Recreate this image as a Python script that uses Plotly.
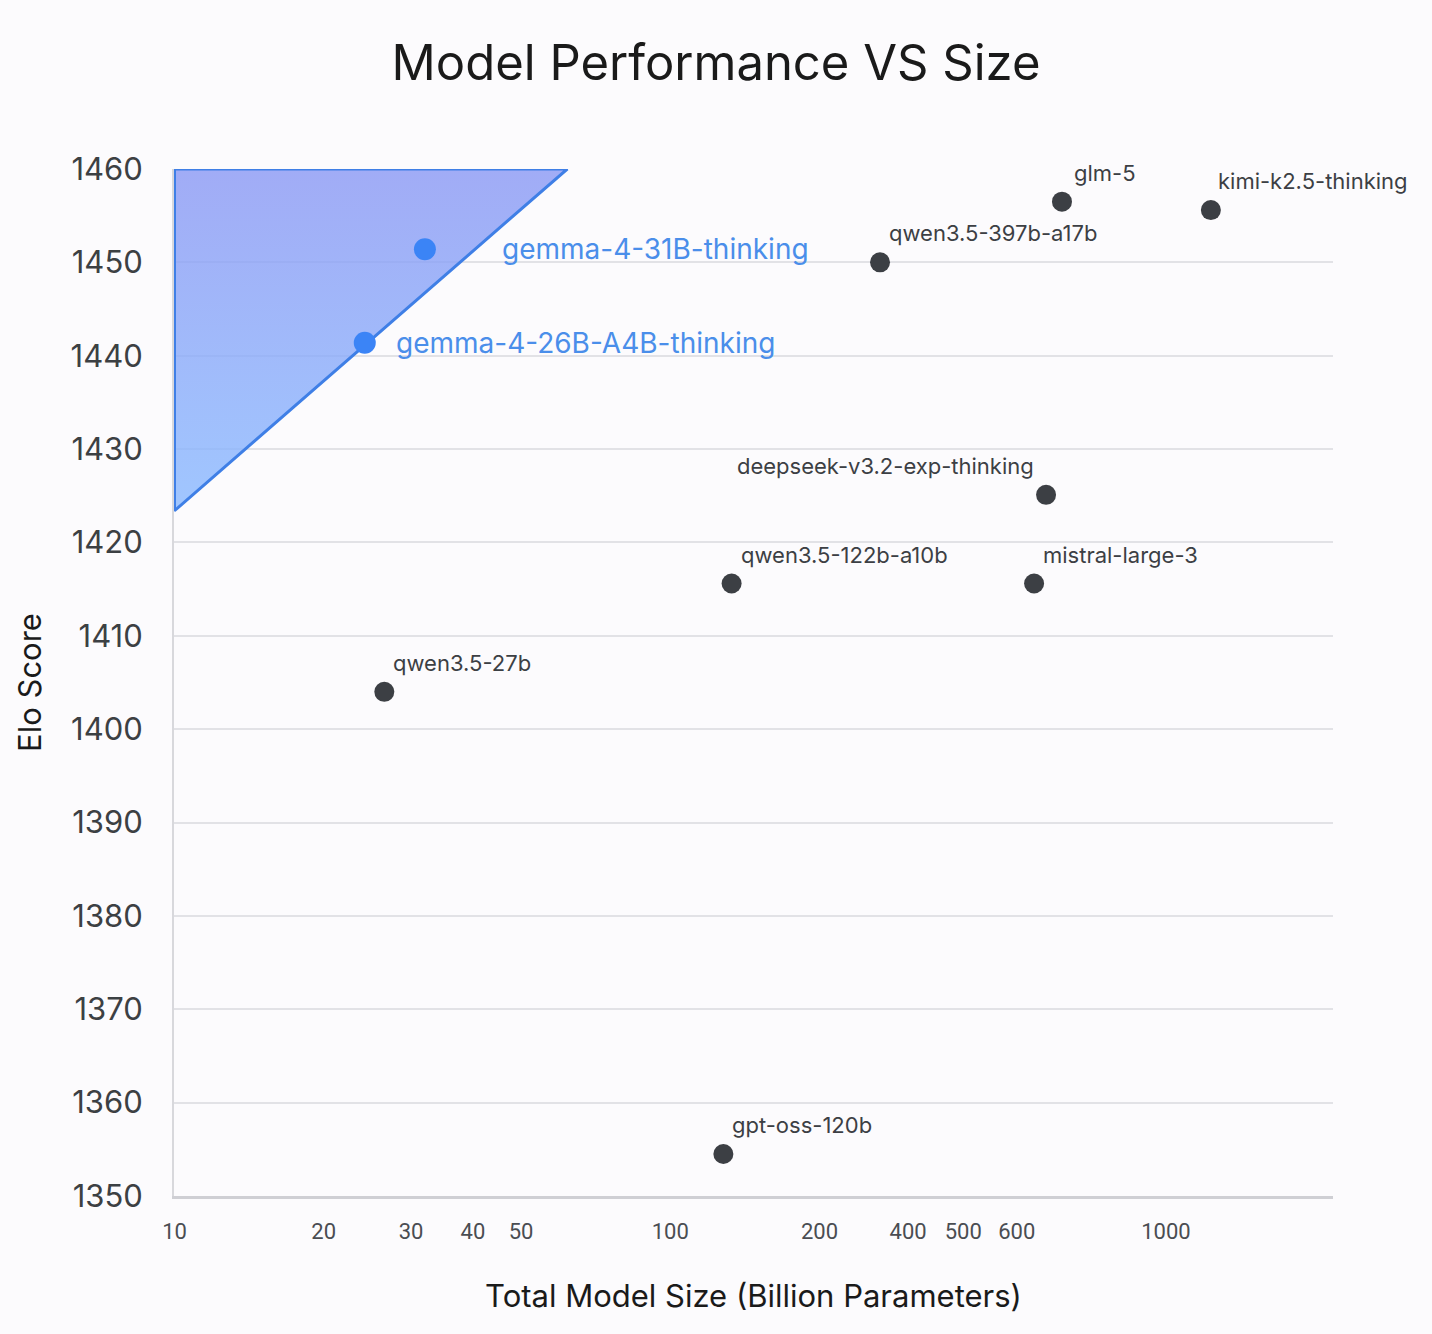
import numpy as np
import plotly.graph_objects as go

# Models from other labs: total size (billion params) and Elo score
other_models = ["glm-5", "kimi-k2.5-thinking", "qwen3.5-397b-a17b", "deepseek-v3.2-exp-thinking",
                "qwen3.5-122b-a10b", "mistral-large-3", "qwen3.5-27b", "gpt-oss-120b"]
other_size = [617, 1232, 265, 573, 133, 542, 26.5, 128]
other_elo = [1456.5, 1455.6, 1450.0, 1425.1, 1415.6, 1415.6, 1404.0, 1354.5]

# Gemma models
gemma_models = ["gemma-4-31B-thinking", "gemma-4-26B-A4B-thinking"]
gemma_size = [32, 24.2]
gemma_elo = [1451.4, 1441.4]

# Highlighted region (corners of the shaded triangle)
region_size = [10, 10, 62, 10]
region_elo = [1460, 1423.4, 1460, 1460]

# Axis ticks (labels as printed on the original chart)
x_tick_vals = [10, 20, 30, 40, 50, 100, 200, 302, 390, 500, 1000]
x_tick_text = ["10", "20", "30", "40", "50", "100", "200", "400", "500", "600", "1000"]
y_tick_vals = [1350, 1360, 1370, 1380, 1390, 1400, 1410, 1420, 1430, 1440, 1450, 1460]

BG = "#fcfbfd"
DARK = "#3c3f44"
BLUE = "#3b84f6"
LABEL_BLUE = "#4a8eea"
FONT = "Inter, Roboto, sans-serif"

fig = go.Figure()

# shaded triangle with gradient fill
fig.add_trace(go.Scatter(
    x=region_size, y=region_elo, mode="lines", fill="toself",
    fillgradient=dict(type="vertical",
                      colorscale=[[0, "rgba(137,185,255,0.8)"], [1, "rgba(138,152,244,0.8)"]]),
    line=dict(color="#3f7fe6", width=3),
    hoverinfo="skip", showlegend=False,
))

fig.add_trace(go.Scatter(
    x=other_size, y=other_elo, mode="markers",
    marker=dict(size=20, color=DARK),
    text=other_models, hovertemplate="%{text}<br>%{x}B, Elo %{y}<extra></extra>",
    showlegend=False, cliponaxis=False,
))

fig.add_trace(go.Scatter(
    x=gemma_size, y=gemma_elo, mode="markers",
    marker=dict(size=22, color=BLUE),
    text=gemma_models, hovertemplate="%{text}<br>%{x}B, Elo %{y}<extra></extra>",
    showlegend=False, cliponaxis=False,
))

# point labels
left_side = {"deepseek-v3.2-exp-thinking"}
nudge = {"glm-5": 10, "kimi-k2.5-thinking": 5}
for name, sx, ey in zip(other_models, other_size, other_elo):
    if name in left_side:
        anchor, dx = "right", -10
    else:
        anchor, dx = "left", nudge.get(name, 7)
    fig.add_annotation(x=np.log10(sx), y=ey, text=name, showarrow=False,
                       xanchor=anchor, yanchor="middle", xshift=dx, yshift=29,
                       font=dict(family=FONT, size=22, color=DARK))

gemma_shift = [75, 29]
for name, sx, ey, dx in zip(gemma_models, gemma_size, gemma_elo, gemma_shift):
    fig.add_annotation(x=np.log10(sx), y=ey, text=name, showarrow=False,
                       xanchor="left", yanchor="middle", xshift=dx, yshift=0,
                       font=dict(family=FONT, size=28, color=LABEL_BLUE))

fig.update_layout(
    width=1432, height=1334,
    margin=dict(l=174, r=99, t=169, b=138),
    paper_bgcolor=BG, plot_bgcolor=BG,
    title=dict(text="Model Performance VS Size", x=0.5, xanchor="center",
               y=1 - 63 / 1334, yanchor="middle",
               font=dict(family=FONT, size=49, color="#1a1a1a")),
    xaxis=dict(type="log", range=[0.999, 3.337],
               tickvals=x_tick_vals, ticktext=x_tick_text,
               tickfont=dict(family="Roboto, sans-serif", size=22, color="#4a4d52"),
               ticks="", ticklabelstandoff=14,
               showgrid=False, zeroline=False,
               showline=True, linecolor="#cfcfd4", linewidth=2.5,
               title=dict(text="Total Model Size (Billion Parameters)", standoff=43,
                          font=dict(family=FONT, size=31, color="#1a1a1a"))),
    yaxis=dict(range=[1350, 1460], tickvals=y_tick_vals,
               tickfont=dict(family=FONT, size=31, color="#3c4043"),
               ticks="", ticklabelstandoff=23,
               showgrid=True, gridcolor="#e2e2e6", gridwidth=1.5, zeroline=False,
               showline=True, linecolor="#d8d8dc", linewidth=2,
               title=dict(text="Elo Score", standoff=20,
                          font=dict(family=FONT, size=31, color="#1a1a1a"))),
)

fig.write_html("out.html", config={"displayModeBar": False},
               post_script="document.body.style.margin='0';")
